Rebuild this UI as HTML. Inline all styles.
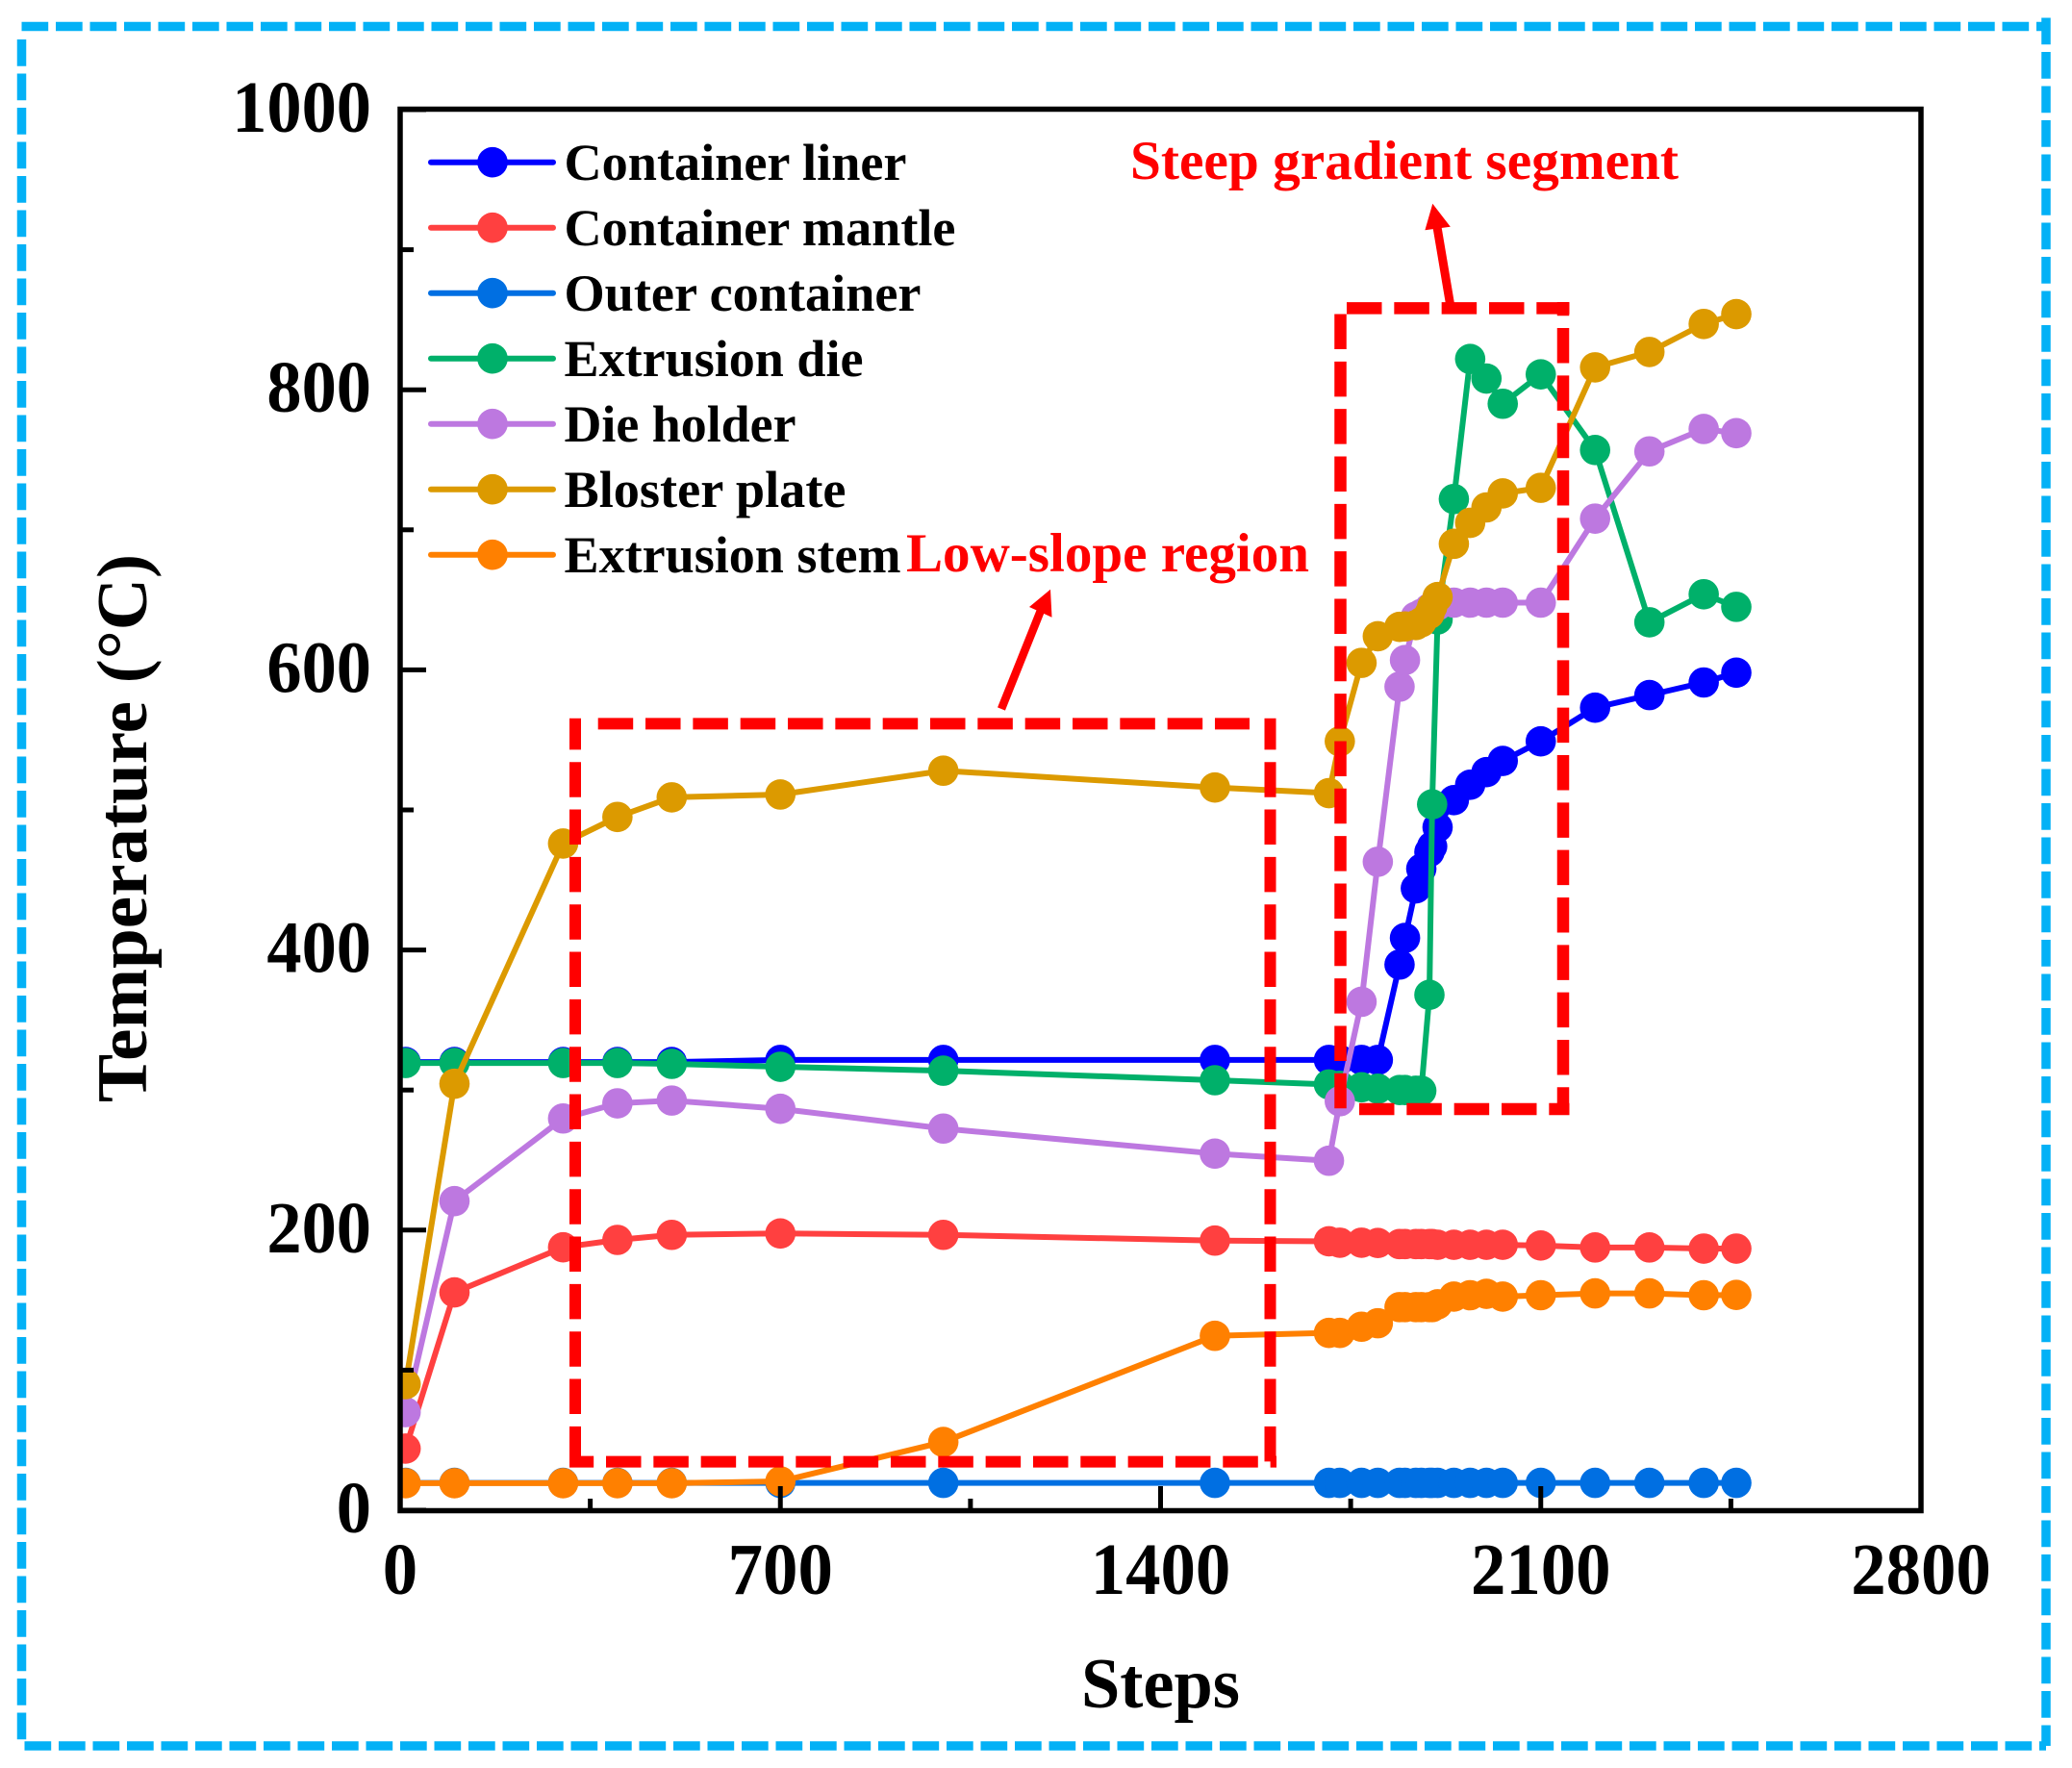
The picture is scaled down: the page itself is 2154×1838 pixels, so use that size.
<!DOCTYPE html>
<html lang="en">
<head>
<meta charset="utf-8">
<title>Temperature vs Steps</title>
<style>
html,body{margin:0;padding:0;background:#fff}
svg{display:block}
text{font-family:"Liberation Serif","DejaVu Serif",serif;font-weight:bold}
</style>
</head>
<body>
<svg id="chart" xmlns="http://www.w3.org/2000/svg" width="2154" height="1838" viewBox="0 0 2154 1838">
  <rect x="0" y="0" width="2154" height="1838" fill="#fff"/>
  <g fill="none" stroke="#03b1f6" stroke-width="9.5" stroke-dasharray="27.7 7.8">
    <line x1="22.5" y1="27.5" x2="2127" y2="27.5"/>
    <line x1="22.5" y1="41" x2="22.5" y2="1815"/>
    <line x1="2127" y1="18.5" x2="2127" y2="1815"/>
    <line x1="25.5" y1="1815" x2="2127" y2="1815"/>
  </g>
  <defs><clipPath id="plot-clip"><rect x="416" y="114" width="1581" height="1456"/></clipPath></defs>
  <g id="series-layer" clip-path="url(#plot-clip)"></g>
  <g id="axis-layer"></g>
  <rect x="416" y="113.5" width="1581" height="1457" fill="none" stroke="#000" stroke-width="5.5"/>

  <text transform="translate(152,1146) rotate(-90)" font-size="74" textLength="570" lengthAdjust="spacingAndGlyphs" fill="#000">Temperature (°C)</text>
  <text x="1124" y="1775" font-size="74" textLength="165" lengthAdjust="spacingAndGlyphs" fill="#000">Steps</text>

  <g>
    <g>
      <line x1="448" y1="168.7" x2="575" y2="168.7" stroke="#0000ff" stroke-width="6" stroke-linecap="round"/>
      <circle cx="512" cy="168.7" r="15.8" fill="#0000ff"/>
      <text x="586.5" y="187" font-size="54" textLength="356" lengthAdjust="spacingAndGlyphs">Container liner</text>
    </g>
    <g>
      <line x1="448" y1="236.7" x2="575" y2="236.7" stroke="#ff4040" stroke-width="6" stroke-linecap="round"/>
      <circle cx="512" cy="236.7" r="15.8" fill="#ff4040"/>
      <text x="586.5" y="255" font-size="54" textLength="407" lengthAdjust="spacingAndGlyphs">Container mantle</text>
    </g>
    <g>
      <line x1="448" y1="304.7" x2="575" y2="304.7" stroke="#006fe2" stroke-width="6" stroke-linecap="round"/>
      <circle cx="512" cy="304.7" r="15.8" fill="#006fe2"/>
      <text x="586.5" y="323" font-size="54" textLength="371" lengthAdjust="spacingAndGlyphs">Outer container</text>
    </g>
    <g>
      <line x1="448" y1="372.7" x2="575" y2="372.7" stroke="#00b06a" stroke-width="6" stroke-linecap="round"/>
      <circle cx="512" cy="372.7" r="15.8" fill="#00b06a"/>
      <text x="586.5" y="391" font-size="54" textLength="311" lengthAdjust="spacingAndGlyphs">Extrusion die</text>
    </g>
    <g>
      <line x1="448" y1="440.7" x2="575" y2="440.7" stroke="#bd78e0" stroke-width="6" stroke-linecap="round"/>
      <circle cx="512" cy="440.7" r="15.8" fill="#bd78e0"/>
      <text x="586.5" y="459" font-size="54" textLength="241" lengthAdjust="spacingAndGlyphs">Die holder</text>
    </g>
    <g>
      <line x1="448" y1="508.7" x2="575" y2="508.7" stroke="#dc9a00" stroke-width="6" stroke-linecap="round"/>
      <circle cx="512" cy="508.7" r="15.8" fill="#dc9a00"/>
      <text x="586.5" y="527" font-size="54" textLength="293" lengthAdjust="spacingAndGlyphs">Bloster plate</text>
    </g>
    <g>
      <line x1="448" y1="576.7" x2="575" y2="576.7" stroke="#ff8000" stroke-width="6" stroke-linecap="round"/>
      <circle cx="512" cy="576.7" r="15.8" fill="#ff8000"/>
      <text x="586.5" y="595" font-size="54" textLength="350" lengthAdjust="spacingAndGlyphs">Extrusion stem</text>
    </g>
  </g>

  <g fill="none" stroke="#ff0000" stroke-width="12" stroke-dasharray="36.5 12.83">
    <line x1="621.7" y1="752.4" x2="1299" y2="752.4"/>
    <line x1="598" y1="746.7" x2="598" y2="1525.5" stroke-dashoffset="3.8"/>
    <line x1="1320.5" y1="746.7" x2="1320.5" y2="1525.5" stroke-dashoffset="3.8"/>
    <line x1="592" y1="1519.6" x2="1327" y2="1519.6" stroke-dashoffset="11.33"/>
  </g>
  <g fill="none" stroke="#ff0000" stroke-width="12.5" stroke-dasharray="36.5 12.83">
    <line x1="1400" y1="320.4" x2="1631.5" y2="320.4"/>
    <line x1="1393.5" y1="326.5" x2="1393.5" y2="1159"/>
    <line x1="1625" y1="314" x2="1625" y2="1159" stroke-dashoffset="22.3"/>
    <line x1="1413" y1="1153" x2="1631.5" y2="1153"/>
  </g>

  <g>
    <line x1="1041" y1="737" x2="1083" y2="632" stroke="#ff0000" stroke-width="8.5"/>
    <polygon points="1092,612.7 1070,631 1093.5,641.7" fill="#ff0000"/>
  </g>
  <g>
    <line x1="1507.5" y1="316" x2="1494" y2="236" stroke="#ff0000" stroke-width="9"/>
    <polygon points="1489.3,211.7 1481.4,239.3 1507.8,235.7" fill="#ff0000"/>
  </g>

  <text x="1175" y="186" font-size="57" textLength="570" lengthAdjust="spacingAndGlyphs" fill="#ff0000">Steep gradient segment</text>
  <text x="942" y="594" font-size="57" textLength="419" lengthAdjust="spacingAndGlyphs" fill="#ff0000">Low-slope region</text>
</svg>
<script>
const steps = [10,100,300,400,500,700,1000,1500,1710,1730,1770,1800,1840,1850,1870,1880,1895,1900,1910,1940,1970,2000,2030,2100,2200,2300,2400,2460];
const containerLiner = [320,320,320,320,320,321.5,321.5,321.5,321.5,321.5,321.5,321.5,389.6,408.6,444,458,470,474,487.6,507,518,527,535,549,573,582,591,598];
const containerMantle = [44,155.5,187.7,193,196.6,197.6,196.6,192.5,192,191,191,190.8,190,190,190,190,190,190,189.5,189.5,189.5,189.5,189.5,189,187.6,187.6,186.8,186.8];
const outerContainer = [19.5,19.5,19.5,19.5,19.5,19.5,19.5,19.5,19.5,19.5,19.5,19.5,19.5,19.5,19.5,19.5,19.5,19.5,19.5,19.5,19.5,19.5,19.5,19.5,19.5,19.5,19.5,19.5];
const extrusionDie = [319.3,319.3,319.3,319.3,318.7,316.6,313.8,307,304,303,302,301,300,300,299.5,299.5,368,504,636,722,822,808,790,811,757,634,654,645];
const dieHolder = [70,220.7,279.7,290.5,292.5,286.6,272.5,254.6,249.5,292,363,463,588,607,638,640,644,645,646,648,648,648,648,648,708,756,772,769];
const blosterPlate = [90,304.5,476,495,509,511,528,516,512,549,605,624,630.7,631,632,634,640,645,652,690,705,716,726,730,816,827,847,854];
const extrusionStem = [19.3,19.3,19.3,19.3,19.3,20.6,48.7,124.5,126.6,126.6,131,133.5,145,145,145,145,145,145,147,152.5,153.5,154.5,152.5,153.5,154.8,154.8,153.5,153.7];

const seriesKeys = ['container-liner','container-mantle','outer-container','extrusion-die','die-holder','bloster-plate','extrusion-stem'];
const seriesColors = ['#0000ff','#ff4040','#006fe2','#00b06a','#bd78e0','#dc9a00','#ff8000'];
const seriesValues = [containerLiner,containerMantle,outerContainer,extrusionDie,dieHolder,blosterPlate,extrusionStem];

const xTickLabels = [0,700,1400,2100,2800];
const xMinorTicks = [350,1050,1750,2450];
const yTickLabels = [0,200,400,600,800,1000];
const yMinorTicks = [100,300,500,700,900];

const NS = 'http://www.w3.org/2000/svg';
const plotLeft = 416, plotRight = 1997, plotTop = 114, plotBottom = 1570;
const xMax = 2800, yMax = 1000;
function xScale(v){ return plotLeft + v / xMax * (plotRight - plotLeft); }
function yScale(v){ return plotBottom - v / yMax * (plotBottom - plotTop); }

const seriesLayer = document.getElementById('series-layer');
const axisLayer = document.getElementById('axis-layer');

seriesValues.forEach(function(values, s){
  const group = document.createElementNS(NS,'g');
  
  
  const line = document.createElementNS(NS,'polyline');
  
  
  line.setAttribute('points', values.map(function(v,i){ return xScale(steps[i]).toFixed(2) + ',' + yScale(v).toFixed(2); }).join(' '));
  line.setAttribute('fill', 'none');
  line.setAttribute('stroke', seriesColors[s]);
  line.setAttribute('stroke-width', '6');
  line.setAttribute('stroke-linejoin', 'round');
  group.appendChild(line);
  values.forEach(function(v,i){
    const dot = document.createElementNS(NS,'circle');
    
    
    dot.setAttribute('cx', xScale(steps[i]).toFixed(2));
    dot.setAttribute('cy', yScale(v).toFixed(2));
    dot.setAttribute('r', '15.8');
    dot.setAttribute('fill', seriesColors[s]);
    group.appendChild(dot);
  });
  seriesLayer.appendChild(group);
});

function addTick(x1,y1,x2,y2){
  const t = document.createElementNS(NS,'line');
  t.setAttribute('x1',x1); t.setAttribute('y1',y1);
  t.setAttribute('x2',x2); t.setAttribute('y2',y2);
  t.setAttribute('stroke','#000');
  t.setAttribute('stroke-width','5');
  axisLayer.appendChild(t);
  return t;
}
function addLabel(x,y,str,anchor,width){
  const l = document.createElementNS(NS,'text');
  l.setAttribute('x',x); l.setAttribute('y',y);
  l.setAttribute('font-size','76');
  l.setAttribute('text-anchor',anchor);
  l.setAttribute('textLength',width);
  l.setAttribute('lengthAdjust','spacingAndGlyphs');
  l.setAttribute('fill','#000');
  l.textContent = str;
  axisLayer.appendChild(l);
  return l;
}
xTickLabels.forEach(function(v){
  const x = xScale(v);
  const tick = addTick(x, plotBottom, x, plotBottom - 25);
  
  
  const label = addLabel(x, 1657, String(v), 'middle', String(v).length * 36.4);
  
  
});
xMinorTicks.forEach(function(v){
  const x = xScale(v);
  const tick = addTick(x, plotBottom, x, plotBottom - 12);
  
  
});
yTickLabels.forEach(function(v){
  const y = yScale(v);
  const tick = addTick(plotLeft, y, plotLeft + 27, y);
  
  
  const label = addLabel(386, y + 23, String(v), 'end', String(v).length * 36.2);
  
  
});
yMinorTicks.forEach(function(v){
  const y = yScale(v);
  const tick = addTick(plotLeft, y, plotLeft + 14, y);
  
  
});
</script>
</body>
</html>
